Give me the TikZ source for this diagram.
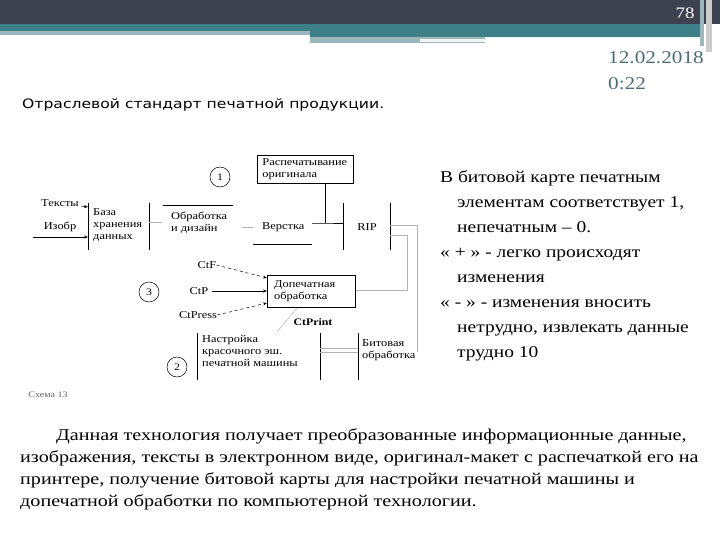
\documentclass[tikz,border=0pt]{standalone}
\usepackage{fontspec}
\setmainfont[FakeStretch=1.18]{Liberation Serif}
\newfontfamily\titlefont[FakeStretch=1.2]{DejaVu Sans}
\usetikzlibrary{arrows.meta}
\definecolor{hdr}{HTML}{3E4150}
\definecolor{teal}{HTML}{3F8088}
\definecolor{lteal}{HTML}{9DB8BC}
\definecolor{datec}{HTML}{4C6E78}
\tikzset{
 lbl/.style={font=\fontsize{10.5}{12}\selectfont,align=left,inner sep=0pt},
 ln/.style={line width=0.8pt},
 gln/.style={line width=0.8pt,gray!60},
 arr/.style={-{Stealth[length=4pt]},line width=0.5pt},
 darr/.style={-{Stealth[length=4pt]},dashed,line width=0.5pt},
 bx/.style={draw,line width=0.8pt,minimum width=#1,inner sep=0pt},
 num/.style={draw,circle,line width=0.5pt,minimum size=20pt,inner sep=0pt,font=\fontsize{10}{10}\selectfont},
 body/.style={font=\fontsize{16.5}{25}\selectfont,align=left,anchor=north west,inner sep=0pt},
}
\begin{document}
\begin{tikzpicture}[x=1pt,y=-1pt]
\useasboundingbox (0,0) rectangle (720,540);
\fill[white] (0,0) rectangle (720,540);
% header
\fill[hdr] (0,0) rectangle (720,24);
\fill[teal] (0,24) rectangle (700,31);
\fill[lteal] (0,31) rectangle (310,35);
\fill[teal] (310,31) rectangle (700,37);
\fill[lteal] (310,37) rectangle (485,43);
\fill[white!85!lteal] (420,39) rectangle (485,42);
\fill[lteal] (700,0) rectangle (704,46);
\fill[gray!40] (706,0) rectangle (712,52);
\node[text=white,font=\fontsize{16}{16}\selectfont,anchor=east] (pg) at (698,13) {78};
\node[text=datec,font=\fontsize{18}{26}\selectfont,align=left,anchor=north west,inner sep=0pt] (date) at (608,51) {12.02.2018\\0:22};
\node[font=\titlefont\fontsize{13}{14}\selectfont,anchor=west,inner sep=0pt] (title) at (22,105) {Отраслевой стандарт печатной продукции.};
% diagram
\node[num] (c1) at (220,177) {1};
\node[bx=96pt,minimum height=28pt,anchor=north west,lbl,align=left,text width=92pt] (rasp) at (257,155) {\hspace*{3pt}Распечатывание\\\hspace*{3pt}оригинала};
\node[lbl] (teksty) at (60,203) {Тексты};
\node[lbl] (izobr) at (60,227) {Изобр};
\coordinate (lin) at (33,237);
\draw[ln] (88,203) -- (88,250);
\coordinate (bazaL) at (88,237);
\coordinate (bazaT) at (88,207);
\draw[arr] (teksty.east)++(2,3) -- (bazaT);
\draw[arr] (lin) -- (bazaL);
\node[lbl,anchor=north west] (baza) at (93,208) {База\\хранения\\данных};
\draw[ln] (149,203) -- (149,250);
\coordinate (bazaR) at (149,222);
\coordinate (obrL) at (162,222);
\draw[gln] (bazaR) -- (obrL);
\draw[ln] (163,205) -- (233,205);
\node[lbl,anchor=north west] (obr) at (171,212) {Обработка\\и дизайн};
\coordinate (obrR) at (242,227);
\coordinate (verL) at (253,227);
\draw[gln] (obrR) -- (verL);
\node[lbl,anchor=west] (vers) at (262,227) {Верстка};
\draw[ln] (253,244) -- (312,244);
\coordinate (verR) at (312,223);
\coordinate (j1) at (325,223);
\coordinate (ripL) at (343,223);
\draw[ln] (verR) -- (j1) -- (ripL);
\draw[ln] (j1) -- (rasp.south -| j1);
\draw[ln] (343,203) -- (343,250);
\node[lbl] (rip) at (367,227) {RIP};
\draw[ln] (390,203) -- (390,250);
% Dopechat
\node[bx=88pt,minimum height=32pt,anchor=north west] (dop) at (267,275) {};
\node[lbl,anchor=north west] (doptxt) at (274,280) {Допечатная\\обработка};
\node[lbl] (ctf) at (207,265) {CtF};
\node[lbl] (ctp) at (199,291) {CtP};
\node[lbl] (ctpress) at (198,315) {CtPress};
\node[num] (c3) at (149,292) {3};
\draw[darr] (ctf.east) -- (dop.west |- 0,278);
\draw[arr] (ctp.east) ++(3,0) -- (dop.west |- ctp);
\draw[darr] (ctpress.east) -- (dop.west |- 0,303);
\node[lbl,font=\fontsize{10}{10}\bfseries\selectfont] (ctprint) at (313,322) {CtPrint};
\coordinate (cpA) at (297,308);
\coordinate (cpB) at (277,332);
\draw[gln,line width=0.5pt] (cpA) -- (cpB);
% RIP to right
\coordinate (r1) at (390,225);
\coordinate (r2) at (390,235);
\coordinate (k1) at (417,225);
\coordinate (k2) at (407,235);
\draw[gln] (r1) -- (k1) -- (417,352);
\draw[gln] (r2) -- (k2) -- (407,290) -- (dop.east |- 0,290);
% bottom
\draw[ln] (197,333) -- (197,380);
\node[lbl,anchor=north west] (nastr) at (202,335) {Настройка\\красочного эш.\\печатной машины};
\draw[ln] (320,333) -- (320,380);
\draw[ln] (358,333) -- (358,380);
\draw[gln] (320,348) -- (358,348);
\draw[gln] (320,352) -- (358,352);
\node[lbl,anchor=north west] (bit) at (362,339) {Битовая\\обработка};
\node[num] (c2) at (177,367) {2};
\node[lbl,font=\fontsize{8.5}{9}\selectfont,text=gray!80!black] (shema) at (48,395) {Схема 13};
% right text
\node[body] (rt) at (440,170) {В битовой карте печатным\\
\hspace*{17pt}элементам соответствует 1,\\
\hspace*{17pt}непечатным -- 0.\\
« + » - легко происходят\\
\hspace*{17pt}изменения\\
« - » - изменения вносить\\
\hspace*{17pt}нетрудно, извлекать данные\\
\hspace*{17pt}трудно 10};
\node[body,font=\fontsize{16.5}{22}\selectfont\addfontfeature{FakeStretch=1.22}] (para) at (20,428) {\hspace*{36pt}Данная технология получает преобразованные информационные данные,\\изображения, тексты в электронном виде, оригинал-макет с распечаткой его на\\принтере, получение битовой карты для настройки печатной машины и\\допечатной обработки по компьютерной технологии.};
\end{tikzpicture}
\end{document}
